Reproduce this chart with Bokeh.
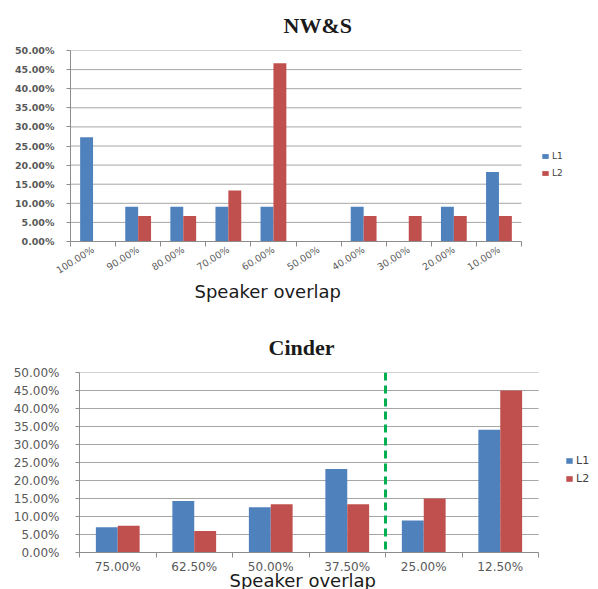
import numpy as np
from bokeh.plotting import figure
from bokeh.models import (ColumnDataSource, Range1d, FixedTicker, NumeralTickFormatter,
                          Legend, LegendItem, Title, Span)
from bokeh.embed import file_html
from bokeh.resources import INLINE

# ---------------- data ----------------
nws_categories = ["100.00%", "90.00%", "80.00%", "70.00%", "60.00%",
                  "50.00%", "40.00%", "30.00%", "20.00%", "10.00%"]
nws_l1 = [27.27, 9.09, 9.09, 9.09, 9.09, 0.0, 9.09, 0.0, 9.09, 18.18]
nws_l2 = [0.0, 6.67, 6.67, 13.33, 46.67, 0.0, 6.67, 6.67, 6.67, 6.67]

cinder_categories = ["75.00%", "62.50%", "50.00%", "37.50%", "25.00%", "12.50%"]
cinder_l1 = [7.0, 14.3, 12.6, 23.2, 8.9, 34.1]
cinder_l2 = [7.4, 6.0, 13.4, 13.4, 15.0, 45.0]
cinder_divider_after = "37.50%"

y_ticks_pct = [0, 5, 10, 15, 20, 25, 30, 35, 40, 45, 50]
series_names = ["L1", "L2"]
x_title = "Speaker overlap"

BLUE = "#4f81bd"
RED = "#c0504d"
GRID = "#a6a6a6"
AXIS = "#8c8c8c"
LABEL = "#595959"
DARK = "#1a1a1a"
BAR_W = 0.286


def make_chart(title, cats, l1, l2, width, height, borders, plot_w, ytick_size, ytick_bold,
               ytick_standoff, xtick_size, xtick_angle, xtick_standoff, title_offset,
               title_valign, title_standoff, xtitle_offset, xtitle_size, xtitle_standoff,
               legend_loc, legend_font, legend_rows):
    n = len(cats)
    idx = np.arange(n)
    left, top, bottom = borders
    frame_w = width - left
    unit_px = plot_w / n                     # pixels per category
    x_end = -0.5 + frame_w / unit_px          # frame extends right to hold the legend
    src = ColumnDataSource(dict(
        x1=idx - BAR_W / 2, x2=idx + BAR_W / 2,
        l1=np.array(l1) / 100.0, l2=np.array(l2) / 100.0))
    p = figure(width=width, height=height, output_backend="svg", toolbar_location=None,
               title=None,
               x_range=Range1d(-0.5, x_end), y_range=Range1d(0, 0.5),
               min_border_left=left, min_border_right=0,
               min_border_top=top, min_border_bottom=bottom)
    p.outline_line_color = None
    p.background_fill_color = "white"
    p.border_fill_color = "white"
    p.xgrid.grid_line_color = None
    p.ygrid.grid_line_color = None

    # horizontal gridlines only across the category area
    yt = [t / 100.0 for t in y_ticks_pct]
    p.segment(x0=[-0.5] * len(yt), x1=[n - 0.5] * len(yt), y0=yt, y1=yt,
              line_color=GRID, line_width=1)

    r1 = p.vbar(x="x1", top="l1", width=BAR_W, source=src, fill_color=BLUE, line_color=None)
    r2 = p.vbar(x="x2", top="l2", width=BAR_W, source=src, fill_color=RED, line_color=None)

    # axes
    xa = p.xaxis[0]
    xa.bounds = (-0.5, n - 0.5)
    xa.ticker = FixedTicker(ticks=list(range(n)), minor_ticks=[i - 0.5 for i in range(n + 1)])
    xa.major_label_overrides = {i: c for i, c in enumerate(cats)}
    xa.major_tick_out = 0
    xa.major_tick_in = 0
    xa.minor_tick_out = 5
    xa.minor_tick_in = 0
    xa.minor_tick_line_color = AXIS
    xa.axis_line_color = AXIS
    xa.major_label_text_font = "DejaVu Sans"
    xa.major_label_text_font_size = xtick_size
    xa.major_label_text_color = LABEL
    xa.major_label_standoff = xtick_standoff
    if xtick_angle:
        xa.major_label_orientation = xtick_angle

    ya = p.yaxis[0]
    ya.ticker = FixedTicker(ticks=yt, minor_ticks=[])
    ya.formatter = NumeralTickFormatter(format="0.00%")
    ya.axis_line_color = AXIS
    ya.major_tick_line_color = AXIS
    ya.major_tick_out = 4
    ya.major_tick_in = 0
    ya.major_label_text_font = "DejaVu Sans"
    ya.major_label_text_font_size = ytick_size
    ya.major_label_text_font_style = "bold" if ytick_bold else "normal"
    ya.major_label_text_color = LABEL
    ya.major_label_standoff = ytick_standoff

    # chart title
    p.add_layout(Title(text=title, align="left", offset=title_offset,
                       standoff=title_standoff, vertical_align=title_valign,
                       text_font="Liberation Serif", text_font_style="bold",
                       text_font_size="22px", text_color=DARK), "above")

    # x-axis title
    p.add_layout(Title(text=x_title, align="left", offset=xtitle_offset,
                       standoff=xtitle_standoff, vertical_align="top",
                       text_font="DejaVu Sans", text_font_style="normal",
                       text_font_size=xtitle_size, text_color=DARK), "below")

    glyph_h, label_h, spacing = legend_rows
    legend = Legend(items=[LegendItem(label=series_names[0], renderers=[r1]),
                           LegendItem(label=series_names[1], renderers=[r2])],
                    location=legend_loc, padding=0, margin=0, spacing=spacing,
                    glyph_width=8, glyph_height=glyph_h, label_height=label_h,
                    label_standoff=3, label_text_font="DejaVu Sans",
                    label_text_font_size=legend_font, label_text_color="#404040",
                    border_line_color=None, background_fill_alpha=0)
    p.add_layout(legend)
    return p


p1 = make_chart("NW&S", nws_categories, nws_l1, nws_l2, width=598, height=309,
                borders=(70, 50, 68), plot_w=451, ytick_size="9.5px", ytick_bold=True,
                ytick_standoff=12, xtick_size="9.5px", xtick_angle=0.56,
                xtick_standoff=2, title_offset=213, title_valign="top", title_standoff=22,
                xtitle_offset=124, xtitle_size="18px", xtitle_standoff=-6,
                legend_loc=(471, 62), legend_font="9px", legend_rows=(6, 12, 5))

p2 = make_chart("Cinder", cinder_categories, cinder_l1, cinder_l2, width=598, height=280,
                borders=(79, 63, 37), plot_w=459, ytick_size="12px", ytick_bold=False,
                ytick_standoff=16, xtick_size="12px", xtick_angle=None,
                xtick_standoff=2, title_offset=189, title_valign="bottom", title_standoff=26,
                xtitle_offset=150, xtitle_size="18px", xtitle_standoff=-14,
                legend_loc=(486, 67), legend_font="11px", legend_rows=(7, 13, 5))

div_x = cinder_categories.index(cinder_divider_after) + 0.5
p2.add_layout(Span(location=div_x, dimension="height", line_color="#00b050",
                   line_width=3, line_dash="8 5"))

open("out.html", "w").write(file_html([p1, p2], INLINE))
